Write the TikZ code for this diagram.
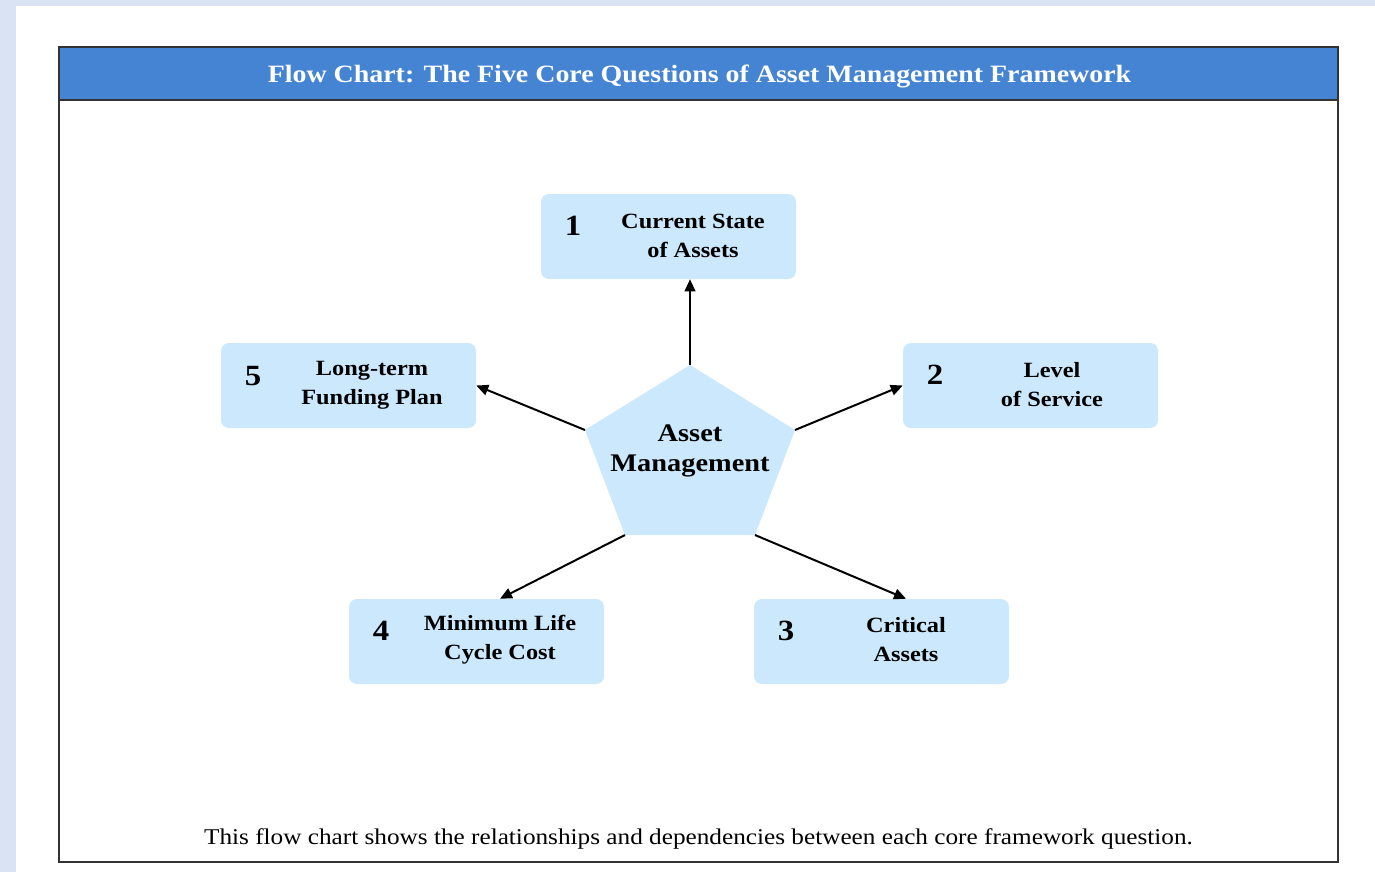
\documentclass[tikz,border=0pt]{standalone}
\usepackage{fontspec}
\setmainfont{Liberation Serif}[FakeStretch=1.12]
\usetikzlibrary{arrows.meta,calc}
\definecolor{pagebg}{HTML}{DAE3F3}
\definecolor{titleblue}{HTML}{4584D3}
\definecolor{boxfill}{HTML}{CCE8FC}
\definecolor{framegray}{HTML}{333333}
\begin{document}
\begin{tikzpicture}[x=0.75pt,y=-0.75pt,
  frame/.style={draw=framegray,line width=1.5pt},
  qbox/.style={fill=boxfill,rounded corners=6pt,minimum width=191.25pt,minimum height=63.75pt,inner sep=0pt},
  num/.style={font=\fontsize{22}{26}\selectfont\bfseries,inner sep=0pt},
  lbl/.style={font=\fontsize{16.3}{21.75}\selectfont\bfseries,align=center,inner sep=0pt},
  ctr/.style={font=\fontsize{19}{22.5}\selectfont\bfseries,align=center,inner sep=0pt},
  arr/.style={line width=1.5pt,-{Triangle[length=9pt,width=8pt]}},
  titletext/.style={font=\fontsize{18.7}{22}\selectfont\bfseries,text=white,inner sep=0pt},
  captext/.style={font=\fontsize{16.9}{20}\selectfont,inner sep=0pt}]
\useasboundingbox (0,0) rectangle (1375,872);
\fill[pagebg] (0,0) rectangle (1375,872);
\fill[white] (16,6) rectangle (1375,872);
\fill[titleblue] (59,47) rectangle (1338,100);
\draw[frame] (59,47) rectangle (1338,862);
\draw[frame] (59,100) -- (1338,100);
\node[titletext] (title) at (699.5,76) {Flow Chart: The Five Core Questions of Asset Management Framework};
% boxes
\node[qbox] (b1) at (668.5,236.5) {};
\node[qbox] (b2) at (1030.5,385.5) {};
\node[qbox] (b5) at (348.5,385.5) {};
\node[qbox] (b4) at (476.5,641.5) {};
\node[qbox] (b3) at (881.5,641.5) {};
\node[num] (n1) at (573,226) {1};
\node[num] (n2) at (935,375) {2};
\node[num] (n5) at (253,376) {5};
\node[num] (n4) at (381,631) {4};
\node[num] (n3) at (786,631) {3};
\node[lbl] (l1) at (693,236) {Current State\\of Assets};
\node[lbl] (l2) at (1052,385) {Level\\of Service};
\node[lbl] (l5) at (372,385) {Long-term\\Funding Plan};
\node[lbl] (l4) at (500,640) {Minimum Life\\Cycle Cost};
\node[lbl] (l3) at (906,640) {Critical\\Assets};
% pentagon
\coordinate (pt) at (690,365);
\coordinate (pr) at (795,430);
\coordinate (pbr) at (755,535);
\coordinate (pbl) at (625,535);
\coordinate (pl) at (585,430);
\fill[boxfill] (pt)--(pr)--(pbr)--(pbl)--(pl)--cycle;
\node[ctr] (am) at (690,451) {Asset\\Management};
% arrows
\draw[arr] (pt) -- (b1.south -| pt);
\draw[arr] (pr) -- (b2.west);
\draw[arr] (pl) -- (b5.east);
\draw[arr] (pbl) -- (b4.north -| l4);
\draw[arr] (pbr) -- (b3.north -| l3);
\node[captext] (cap) at (698.5,839) {This flow chart shows the relationships and dependencies between each core framework question.};
\end{tikzpicture}
\end{document}
